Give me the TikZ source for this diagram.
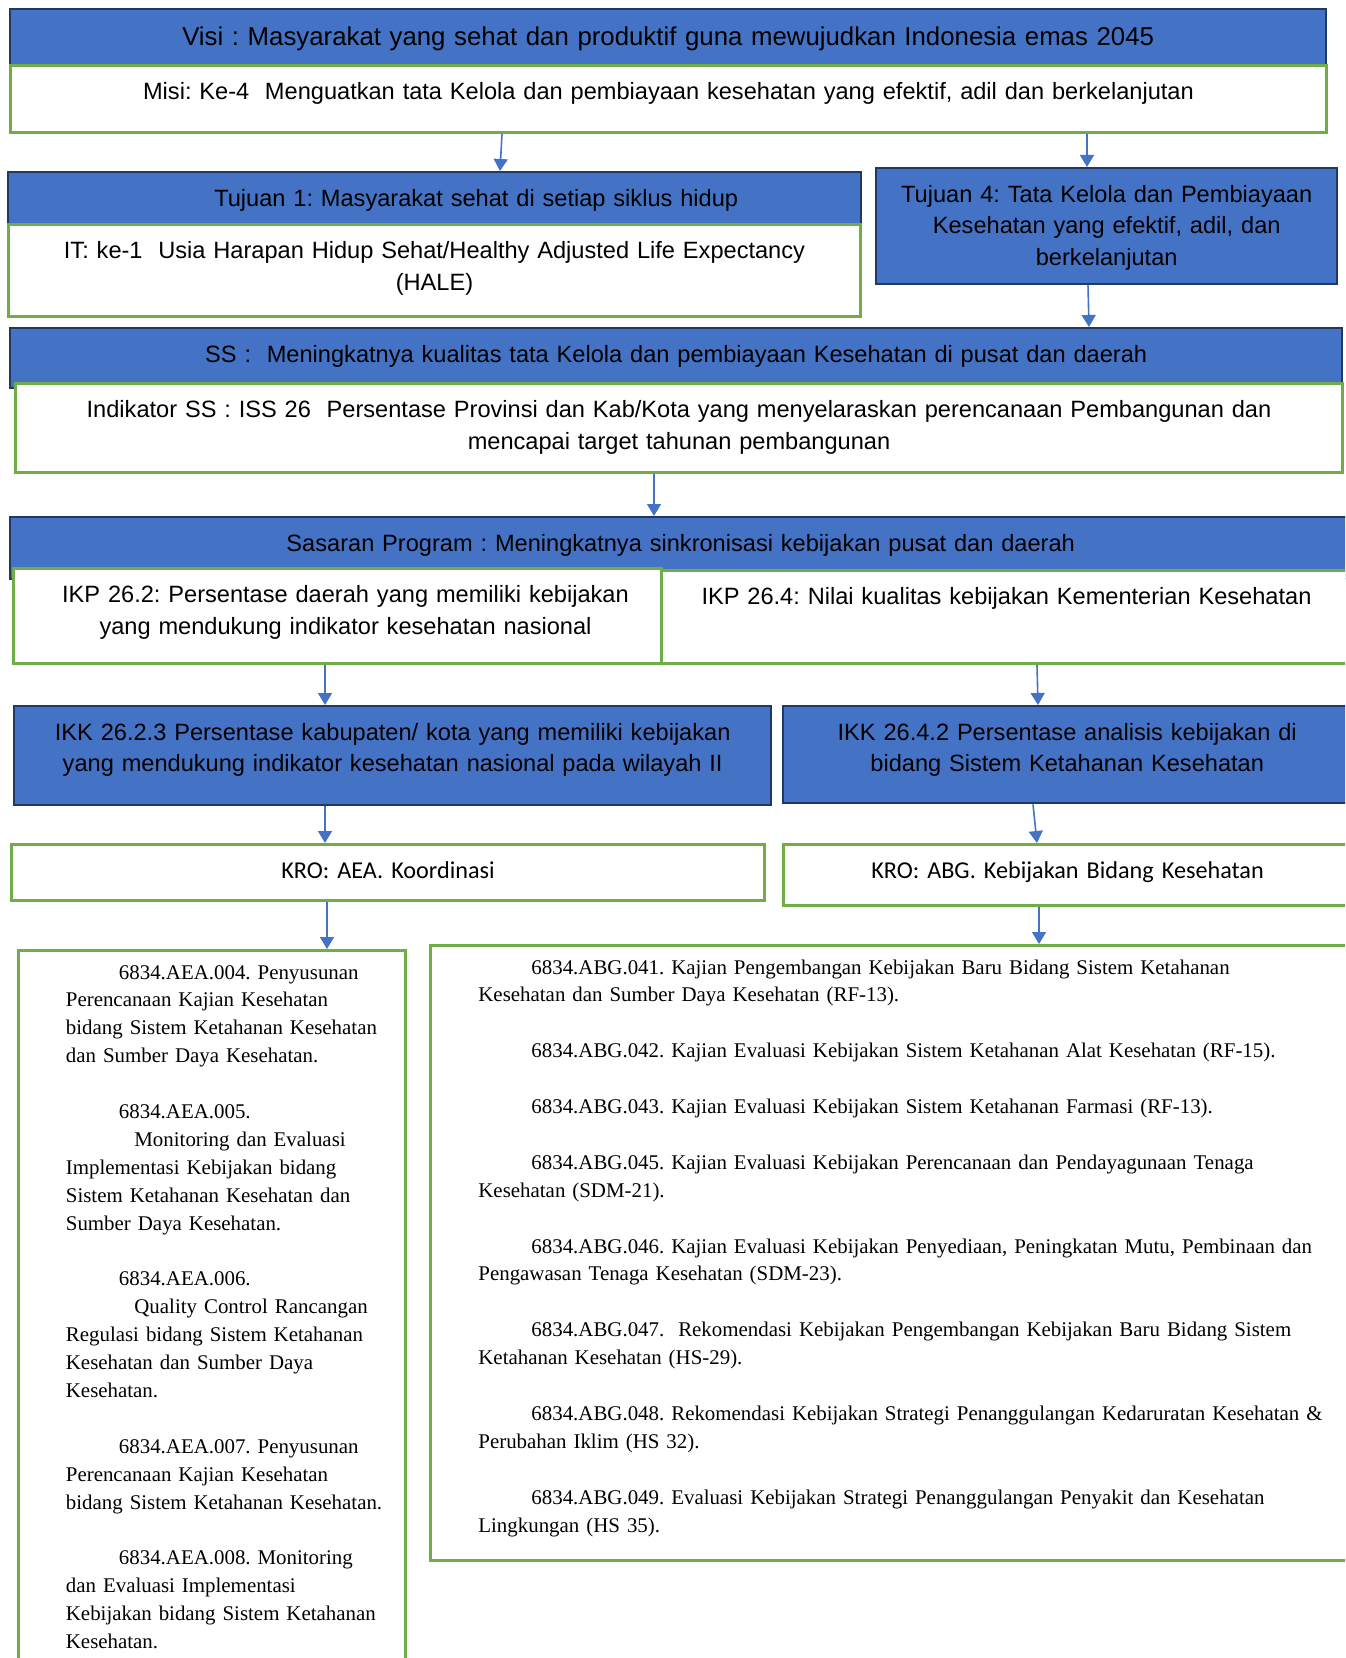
\documentclass[tikz,border=0pt]{standalone}
\usepackage{fontspec}
\setmainfont{Liberation Serif}
\newfontfamily\arialf{Liberation Sans}
\newfontfamily\calibrif{Carlito}
\usepackage{tikz}
\usetikzlibrary{arrows.meta,positioning}
\definecolor{biru}{HTML}{4472C4}
\definecolor{navy}{HTML}{203864}
\definecolor{hijau}{HTML}{70AD47}
\tikzstyle{panah} = [draw=biru, line width=0.8pt, -{Triangle[length=6pt,width=7pt]}]
\frenchspacing

\begin{document}
\begin{tikzpicture}[x=0.5pt, y=-0.5pt,
    kotak/.style={draw, inner sep=0pt, anchor=north west, align=center, text height=17pt,
      font=\arialf\fontsize{11.8}{15.85}\selectfont},
    kotakbiru/.style={kotak, fill=biru, draw=navy, line width=1.2pt},
    kotakhijau/.style={kotak, fill=white, draw=hijau, line width=1.5pt},
    kro/.style={kotakhijau, font=\calibrif\fontsize{12.1}{14}\selectfont},
    daftar/.style={inner sep=0pt, align=left, anchor=base west,
      font=\fontsize{10.45}{13.95}\selectfont}]
  \useasboundingbox (0,0) rectangle (1345,1658);
  \clip (0,0) rectangle (1345,1658);

  % visi dan misi
  \node[kotakbiru, text width=658pt, text height=18pt, text depth=10pt,
    font=\arialf\fontsize{12.9}{15.85}\selectfont] (visi) at (9,8)
    {Visi : Masyarakat yang sehat dan produktif guna mewujudkan Indonesia emas 2045};
  \node[kotakhijau, text width=658pt, text depth=16.5pt] (misi) at (9,64)
    {Misi: Ke-4~ Menguatkan tata Kelola dan pembiayaan kesehatan yang efektif, adil dan berkelanjutan};

  % tujuan
  \node[kotakbiru, text width=426.5pt, text depth=9pt] (tj1) at (7,171)
    {\hspace*{41.5pt}Tujuan 1: Masyarakat sehat di setiap siklus hidup};
  \node[kotakhijau, text width=426pt, text depth=29pt] (it1) at (7,223)
    {IT: ke-1~ Usia Harapan Hidup Sehat/Healthy Adjusted Life Expectancy\\(HALE)};
  \node[kotakbiru, text width=230.5pt, text depth=41pt] (tj4) at (875,167)
    {Tujuan 4: Tata Kelola dan Pembiayaan\\Kesehatan yang efektif, adil, dan\\berkelanjutan};

  % sasaran strategis
  \node[kotakbiru, text width=666pt, text depth=13pt] (ss) at (9,327)
    {SS :~ Meningkatnya kualitas tata Kelola dan pembiayaan Kesehatan di pusat dan daerah};
  \node[kotakhijau, text width=663.5pt, text depth=27.5pt] (iss) at (14,382)
    {Indikator SS : ISS 26~ Persentase Provinsi dan Kab/Kota yang menyelaraskan perencanaan Pembangunan dan\\mencapai target tahunan pembangunan};

  % sasaran program
  \node[kotakbiru, text width=670.5pt, text depth=14pt] (sp) at (9,516)
    {Sasaran Program : Meningkatnya sinkronisasi kebijakan pusat dan daerah};
  \node[kotakhijau, text width=324pt, text depth=30.5pt] (ikp2) at (12,567)
    {\hspace*{8pt}IKP 26.2: Persentase daerah yang memiliki kebijakan\\\hspace*{8pt}yang mendukung indikator kesehatan nasional};
  \node[kotakhijau, text width=345pt, text depth=29.5pt] (ikp4) at (660,569)
    {IKP 26.4: Nilai kualitas kebijakan Kementerian Kesehatan};

  % kegiatan
  \node[kotakbiru, text width=378.5pt, text depth=32.5pt] (ikk2) at (13,705)
    {IKK 26.2.3 Persentase kabupaten/ kota yang memiliki kebijakan\\yang mendukung indikator kesehatan nasional pada wilayah II};
  \node[kotakbiru, text width=284pt, text depth=31.5pt] (ikk4) at (782,705)
    {IKK 26.4.2 Persentase analisis kebijakan di\\bidang Sistem Ketahanan Kesehatan};

  % KRO
  \node[kro, text width=376.5pt, text depth=11pt] (kroA) at (10,843) {KRO: AEA. Koordinasi};
  \node[kro, text width=284pt, text depth=13.5pt] (kroB) at (782,843) {KRO: ABG. Kebijakan Bidang Kesehatan};

  % daftar RO
  \node[kotakhijau, minimum width=193.5pt, minimum height=365pt] (aea) at (17,949) {};
  \node[kotakhijau, minimum width=460.5pt, minimum height=307.5pt] (abg) at (429,944) {};
  \node[daftar, text width=175pt] (aeatxt) at ([xshift=24.25pt, yshift=-15pt]aea.north west)
    {\hspace*{26.5pt}6834.AEA.004. Penyusunan\\
     Perencanaan Kajian Kesehatan\\
     bidang Sistem Ketahanan Kesehatan\\
     dan Sumber Daya Kesehatan.\\[13.95pt]
     \hspace*{26.5pt}6834.AEA.005.\\
     \hspace*{34.25pt}Monitoring dan Evaluasi\\
     Implementasi Kebijakan bidang\\
     Sistem Ketahanan Kesehatan dan\\
     Sumber Daya Kesehatan.\\[13.95pt]
     \hspace*{26.5pt}6834.AEA.006.\\
     \hspace*{34.25pt}Quality Control Rancangan\\
     Regulasi bidang Sistem Ketahanan\\
     Kesehatan dan Sumber Daya\\
     Kesehatan.\\[13.95pt]
     \hspace*{26.5pt}6834.AEA.007. Penyusunan\\
     Perencanaan Kajian Kesehatan\\
     bidang Sistem Ketahanan Kesehatan.\\[13.95pt]
     \hspace*{26.5pt}6834.AEA.008. Monitoring\\
     dan Evaluasi Implementasi\\
     Kebijakan bidang Sistem Ketahanan\\
     Kesehatan.};
  \node[daftar, text width=450pt] (abgtxt) at ([xshift=24.5pt, yshift=-15pt]abg.north west)
    {\hspace*{26.5pt}6834.ABG.041. Kajian Pengembangan Kebijakan Baru Bidang Sistem Ketahanan\\
     Kesehatan dan Sumber Daya Kesehatan (RF-13).\\[13.95pt]
     \hspace*{26.5pt}6834.ABG.042. Kajian Evaluasi Kebijakan Sistem Ketahanan Alat Kesehatan (RF-15).\\[13.95pt]
     \hspace*{26.5pt}6834.ABG.043. Kajian Evaluasi Kebijakan Sistem Ketahanan Farmasi (RF-13).\\[13.95pt]
     \hspace*{26.5pt}6834.ABG.045. Kajian Evaluasi Kebijakan Perencanaan dan Pendayagunaan Tenaga\\
     Kesehatan (SDM-21).\\[13.95pt]
     \hspace*{26.5pt}6834.ABG.046. Kajian Evaluasi Kebijakan Penyediaan, Peningkatan Mutu, Pembinaan dan\\
     Pengawasan Tenaga Kesehatan (SDM-23).\\[13.95pt]
     \hspace*{26.5pt}6834.ABG.047.~ Rekomendasi Kebijakan Pengembangan Kebijakan Baru Bidang Sistem\\
     Ketahanan Kesehatan (HS-29).\\[13.95pt]
     \hspace*{26.5pt}6834.ABG.048. Rekomendasi Kebijakan Strategi Penanggulangan Kedaruratan Kesehatan \&\\
     Perubahan Iklim (HS 32).\\[13.95pt]
     \hspace*{26.5pt}6834.ABG.049. Evaluasi Kebijakan Strategi Penanggulangan Penyakit dan Kesehatan\\
     Lingkungan (HS 35).};

  % panah
  \draw[panah] (misi.south -| 502,0) -- (tj1.north -| 500,0);
  \draw[panah] (misi.south -| 1087,0) -- (tj4.north -| 1087,0);
  \draw[panah] (tj4.south -| 1088,0) -- (ss.north -| 1089,0);
  \draw[panah] (iss.south -| 654,0) -- (sp.north -| 654,0);
  \draw[panah] (ikp2.south -| 325,0) -- (ikk2.north -| 325,0);
  \draw[panah] (ikp4.south -| 1037,0) -- (ikk4.north -| 1038,0);
  \draw[panah] (ikk2.south -| 325,0) -- (kroA.north -| 325,0);
  \draw[panah] (ikk4.south -| 1033,0) -- (kroB.north -| 1037,0);
  \draw[panah] (kroA.south -| 327,0) -- (aea.north -| 327,0);
  \draw[panah] (kroB.south -| 1039,0) -- (abg.north -| 1039,0);
\end{tikzpicture}
\end{document}
